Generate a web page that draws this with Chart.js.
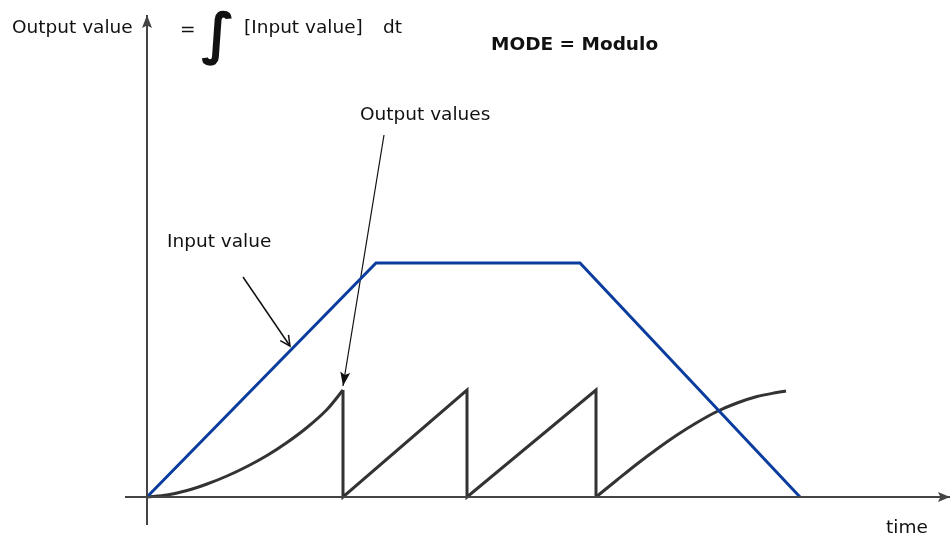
<!DOCTYPE html>
<html>
<head>
<meta charset="utf-8">
<script src="https://cdn.jsdelivr.net/npm/chart.js@4"></script>
<style>
  html, body { margin: 0; padding: 0; background: #fff; }
  #contenedor { width: 952px; height: 539px; position: relative; }
</style>
</head>
<body>
<div id="contenedor"><canvas id="grafico"></canvas></div>
<script>
// ============ Datos (tiempo / valor, origen en el cruce de los ejes) ============
var inputX = [0, 22.9, 43.3, 65.3];
var inputY = [0, 23.4, 23.4, 0];

var curva1X = [0, 2, 4, 6, 8, 10, 12, 14, 16, 18, 19.6];
var curva1Y = [0, 0.2, 0.65, 1.3, 2.1, 3.05, 4.15, 5.45, 6.95, 8.75, 10.7];

var sierraX = [19.6, 19.6, 32.0, 32.0, 44.9, 44.9];
var sierraY = [10.7, 0, 10.7, 0, 10.7, 0];

var curva2X = [44.9, 47, 49, 51, 53, 55, 57, 59, 61, 63, 63.9];
var curva2Y = [0, 1.7, 3.3, 4.8, 6.2, 7.45, 8.55, 9.4, 10.05, 10.45, 10.6];

// ejes y flechas de anotación
var ejeYX = [0, 0];
var ejeYY = [-2.8, 48.2];
var ejeXX = [-2.2, 80.3];
var ejeXY = [0, 0];
var flechaInputX = [9.6, 14.3];
var flechaInputY = [22.0, 15.1];
var flechaOutputX = [23.7, 19.6];
var flechaOutputY = [36.2, 11.1];

function puntos(xs, ys) {
  return xs.map((x, i) => ({ x: x, y: ys[i] }));
}

// ============ Plugin: puntas de flecha y textos ============
var pluginDibujo = {
  id: "dibujo",
  afterDatasetsDraw(chart) {
    const ctx = chart.ctx;
    chart.data.datasets.forEach((ds, i) => {
      if (!ds.flecha) return;
      const pts = chart.getDatasetMeta(i).data;
      const a = pts[pts.length - 2], b = pts[pts.length - 1];
      const ang = Math.atan2(b.y - a.y, b.x - a.x);
      const L = ds.flecha.largo, W = ds.flecha.ancho;
      ctx.save();
      ctx.translate(b.x, b.y);
      ctx.rotate(ang);
      ctx.fillStyle = ds.borderColor;
      ctx.strokeStyle = ds.borderColor;
      ctx.beginPath();
      if (ds.flecha.abierta) {
        ctx.lineWidth = 1.5;
        ctx.moveTo(-L, -W);
        ctx.lineTo(0, 0);
        ctx.lineTo(-L, W);
        ctx.stroke();
      } else {
        ctx.moveTo(0, 0);
        ctx.lineTo(-L, -W);
        ctx.lineTo(-L * 0.8, 0);
        ctx.lineTo(-L, W);
        ctx.closePath();
        ctx.fill();
      }
      ctx.restore();
    });

    ctx.save();
    ctx.fillStyle = "#111";
    ctx.textBaseline = "middle";
    ctx.textAlign = "left";
    ctx.font = "18.5px 'DejaVu Sans'";
    ctx.fillText("Output value", 12, 28);
    ctx.fillText("=", 180, 30);
    ctx.fillText("[Input value]", 244, 28);
    ctx.fillText("dt", 383, 28);
    ctx.fillText("Output values", 360, 115);
    ctx.fillText("Input value", 167, 242);
    ctx.fillText("time", 886, 528);
    ctx.font = "bold 18.5px 'DejaVu Sans'";
    ctx.fillText("MODE = Modulo", 491, 45);
    ctx.font = "bold 56px 'DejaVu Sans'";
    ctx.fillText("\u222B", 201, 38);
    ctx.restore();
  }
};

var colorEje = "#444";
var colorSalida = "#333";
var colorEntrada = "#0b3d9e";

new Chart(document.getElementById("grafico"), {
  type: "line",
  data: {
    datasets: [
      { data: puntos(ejeYX, ejeYY), borderColor: colorEje, borderWidth: 2, flecha: { largo: 13, ancho: 5 } },
      { data: puntos(ejeXX, ejeXY), borderColor: colorEje, borderWidth: 2, flecha: { largo: 12, ancho: 5 } },
      { data: puntos(inputX, inputY), borderColor: colorEntrada, borderWidth: 3 },
      { data: puntos(curva1X, curva1Y), borderColor: colorSalida, borderWidth: 3, tension: 0.3 },
      { data: puntos(sierraX, sierraY), borderColor: colorSalida, borderWidth: 3 },
      { data: puntos(curva2X, curva2Y), borderColor: colorSalida, borderWidth: 3, tension: 0.3 },
      { data: puntos(flechaInputX, flechaInputY), borderColor: "#111", borderWidth: 1.5, flecha: { largo: 10, ancho: 5, abierta: true } },
      { data: puntos(flechaOutputX, flechaOutputY), borderColor: "#111", borderWidth: 1.2, flecha: { largo: 14, ancho: 5 } }
    ]
  },
  options: {
    responsive: true,
    maintainAspectRatio: false,
    animation: false,
    layout: { padding: 0 },
    elements: { point: { radius: 0 }, line: { borderJoinStyle: "miter", borderCapStyle: "butt" } },
    scales: {
      x: { type: "linear", display: false, min: -14.7, max: 80.5 },
      y: { type: "linear", display: false, min: -4.2, max: 49.7 }
    },
    plugins: { legend: { display: false }, tooltip: { enabled: false } }
  },
  plugins: [pluginDibujo]
});
</script>
</body>
</html>
